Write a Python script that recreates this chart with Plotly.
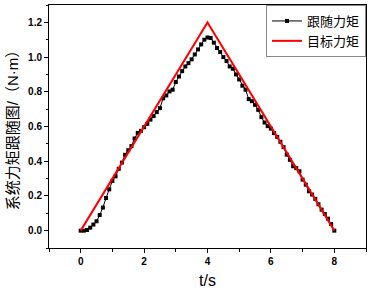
import plotly.graph_objects as go

t_follow = [round(i * 0.1, 1) for i in range(81)]
torque_follow = [
    0.000, 0.000, 0.004, 0.017, 0.035, 0.054, 0.090, 0.133, 0.188, 0.238,
    0.287, 0.313, 0.356, 0.392, 0.437, 0.463, 0.487, 0.531, 0.563, 0.575,
    0.596, 0.615, 0.640, 0.660, 0.683, 0.706, 0.762, 0.779, 0.802, 0.812,
    0.856, 0.888, 0.919, 0.946, 0.965, 0.987, 1.015, 1.044, 1.073, 1.100,
    1.113, 1.110, 1.083, 1.052, 1.029, 1.000, 0.977, 0.946, 0.933, 0.900,
    0.871, 0.835, 0.812, 0.758, 0.746, 0.725, 0.696, 0.654, 0.623, 0.602,
    0.588, 0.562, 0.540, 0.512, 0.481, 0.438, 0.408, 0.371, 0.360, 0.342,
    0.294, 0.265, 0.227, 0.208, 0.183, 0.152, 0.121, 0.096, 0.069, 0.038,
    0.000,
]
t_target = [0, 4, 8]
torque_target = [0, 1.2, 0]

x_ticks = [0, 2, 4, 6, 8]
y_ticks = [0.0, 0.2, 0.4, 0.6, 0.8, 1.0, 1.2]

fig = go.Figure()
fig.add_trace(go.Scatter(
    x=t_follow, y=torque_follow, mode="lines+markers", name="跟随力矩",
    line=dict(color="black", width=1),
    marker=dict(symbol="square", size=4, color="black"),
))
fig.add_trace(go.Scatter(
    x=t_target, y=torque_target, mode="lines", name="目标力矩",
    line=dict(color="#ff0000", width=2),
))

axis_common = dict(
    showgrid=False, zeroline=False, showline=True, linecolor="black",
    linewidth=1, mirror=True, ticks="outside", ticklen=4, tickcolor="black",
    automargin=False,
    tickfont=dict(family="Arial, Liberation Sans", size=10, color="black", weight="bold"),
)

fig.update_xaxes(
    range=[-1, 9], tickvals=x_ticks, ticktext=[str(v) for v in x_ticks],
    minor=dict(ticks="outside", ticklen=3, dtick=1, tick0=-1, tickcolor="black"),
    title=dict(text="t/s", font=dict(family="Arial, Liberation Sans", size=16, color="black"), standoff=8),
    **axis_common,
)
fig.update_yaxes(
    range=[-0.1, 1.3], tickvals=y_ticks, ticktext=[f"{v:.1f}" for v in y_ticks],
    minor=dict(ticks="outside", ticklen=2, dtick=0.1, tick0=0, tickcolor="black"),
    title=dict(text="系统力矩跟随图/（N·m）",
               font=dict(family="Liberation Sans, Noto Sans CJK SC", size=15, color="black"),
               standoff=5),
    **axis_common,
)

fig.update_layout(
    width=371, height=291,
    margin=dict(l=49, r=5, t=5, b=43),
    paper_bgcolor="white", plot_bgcolor="white",
    showlegend=True,
    legend=dict(
        x=1, y=1, xanchor="right", yanchor="top",
        bgcolor="white", bordercolor="#888888", borderwidth=1,
        font=dict(family="Noto Sans CJK SC", size=13, color="black"),
        tracegroupgap=0, itemwidth=30,
    ),
)

fig.write_html(
    "out.html",
    config={"displayModeBar": False},
    post_script="document.body.style.margin='0px';document.body.style.padding='0px';",
)
